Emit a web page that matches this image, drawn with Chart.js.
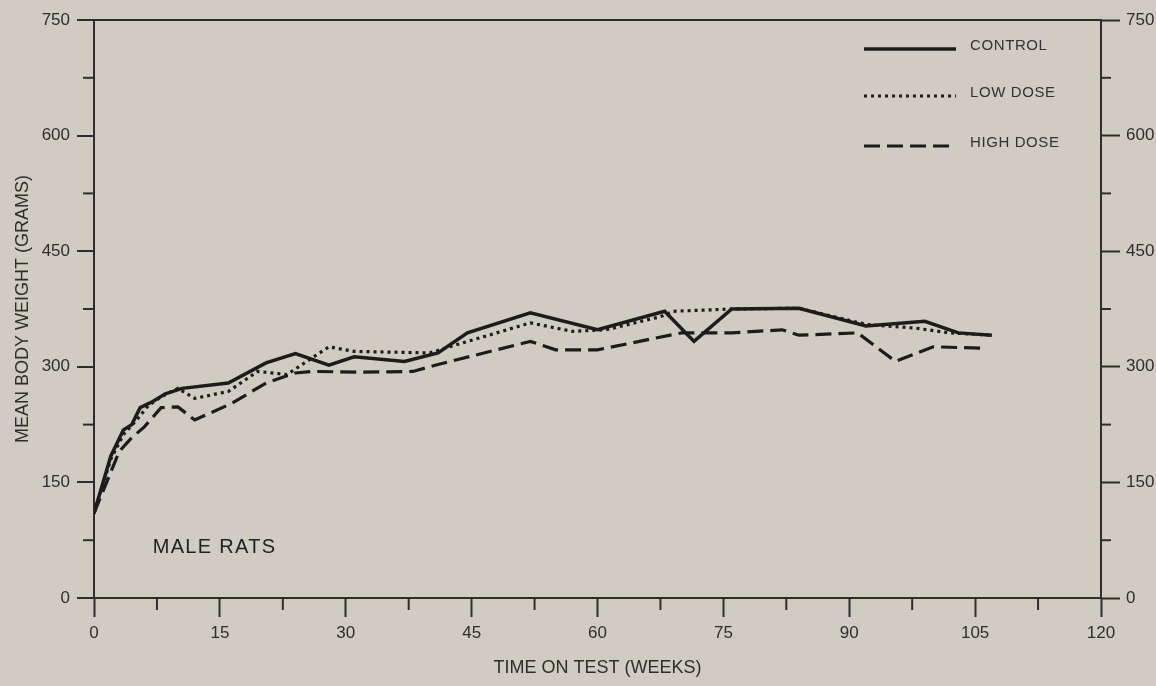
<!DOCTYPE html>
<html><head><meta charset="utf-8">
<script src="https://cdn.jsdelivr.net/npm/chart.js@4"></script>
<style>html,body{margin:0;padding:0;background:#d0ccc1;}#wrap{width:1156px;height:686px;}</style>
</head><body><div id="wrap"><canvas id="c" width="1156" height="686"></canvas></div>
<script>
// ---- data ----
const controlWeeks = [0, 2, 3.5, 4.5, 5.5, 7, 8.5, 10.5, 16, 20.5, 24, 28, 31, 37, 41, 44.5, 52, 60, 68, 71.5, 76, 84, 92, 99, 103, 107];
const controlWeights = [110, 184, 218, 225, 247, 255, 265, 272, 279, 305, 317, 302, 313, 307, 318, 344, 370, 348, 372, 333, 375, 376, 353, 359, 344, 341];

const lowWeeks = [0, 2, 3.5, 5, 6.5, 8, 10, 12, 16, 19.5, 23, 28, 31, 40, 43, 52, 57, 61, 67.5, 69, 76, 84, 92, 98, 102, 107];
const lowWeights = [110, 180, 212, 230, 250, 261, 272, 259, 268, 294, 290, 326, 320, 318, 328, 357, 346, 348, 365, 372, 375, 376, 355, 350, 344, 341];

const highWeeks = [0, 1.5, 3, 4.5, 6, 8, 10, 12, 16.5, 20.5, 24, 26, 32, 38, 41, 52, 55, 60, 70, 76, 82, 84, 91, 95.5, 100, 106];
const highWeights = [110, 150, 190, 208, 222, 247, 248, 231, 253, 279, 292, 294, 293, 294, 303, 333, 322, 322, 344, 344, 348, 341, 344, 307, 326, 324];

const seriesLabels = ['CONTROL', 'LOW DOSE', 'HIGH DOSE'];
const xMajorStep = 15, xMinorStep = 7.5, xMin = 0, xMax = 120;
const yMajorStep = 150, yMinorStep = 75, yMin = 0, yMax = 750;
const xTitle = 'TIME ON TEST (WEEKS)';
const yTitle = 'MEAN BODY WEIGHT (GRAMS)';
const panelLabel = 'MALE RATS';
const panelLabelAt = { x: 7, y: 66 };

// ---- styling ----
const INK = '#1c1c1c';
const AXIS = '#2e2e2e';
const FONT = "'Liberation Sans', Arial, sans-serif";

function pts(xs, ys) { return xs.map((x, i) => ({ x: x, y: ys[i] })); }

const datasets = [
  { label: seriesLabels[0], data: pts(controlWeeks, controlWeights), borderColor: INK, borderWidth: 3.5, borderDash: [] },
  { label: seriesLabels[1], data: pts(lowWeeks, lowWeights), borderColor: INK, borderWidth: 3.2, borderDash: [3, 4] },
  { label: seriesLabels[2], data: pts(highWeeks, highWeights), borderColor: INK, borderWidth: 3.2, borderDash: [16, 7] }
].map(d => Object.assign(d, { pointRadius: 0, tension: 0, fill: false, yAxisID: 'y', xAxisID: 'x' }));

const decor = {
  id: 'decor',
  afterDraw(chart) {
    const ctx = chart.ctx;
    const xs = chart.scales.x, yl = chart.scales.y, yr = chart.scales.y2;
    ctx.save();
    ctx.strokeStyle = AXIS;
    ctx.lineWidth = 2;
    // minor ticks
    for (let v = xMin + xMinorStep; v < xMax; v += xMajorStep) {
      const p = xs.getPixelForValue(v);
      ctx.beginPath(); ctx.moveTo(p, xs.top); ctx.lineTo(p, xs.top + 12); ctx.stroke();
    }
    for (let v = yMin + yMinorStep; v < yMax; v += yMajorStep) {
      const p = yl.getPixelForValue(v);
      ctx.beginPath(); ctx.moveTo(yl.right, p); ctx.lineTo(yl.right - 11, p); ctx.stroke();
      const q = yr.getPixelForValue(v);
      ctx.beginPath(); ctx.moveTo(yr.left, q); ctx.lineTo(yr.left + 10, q); ctx.stroke();
    }
    // legend
    const ca = chart.chartArea;
    const lx0 = ca.right - 237, lx1 = ca.right - 145, tx = ca.right - 131;
    const rows = [29, 76, 126];
    ctx.font = '15px ' + FONT;
    ctx.textBaseline = 'middle';
    ctx.textAlign = 'left';
    chart.data.datasets.forEach((ds, i) => {
      const y = ca.top + rows[i];
      ctx.save();
      ctx.strokeStyle = ds.borderColor;
      ctx.lineWidth = ds.borderWidth;
      ctx.setLineDash(ds.borderDash || []);
      ctx.beginPath(); ctx.moveTo(lx0, y); ctx.lineTo(lx1, y); ctx.stroke();
      ctx.restore();
      ctx.fillStyle = '#333';
      ctx.letterSpacing = '0.6px';
      ctx.fillText(ds.label, tx, y - 3);
    });
    // panel label
    ctx.font = '20px ' + FONT;
    ctx.letterSpacing = '1.3px';
    ctx.fillStyle = '#222';
    ctx.fillText(panelLabel, xs.getPixelForValue(panelLabelAt.x), yl.getPixelForValue(panelLabelAt.y));
    ctx.restore();
  }
};

const tickFont = { family: FONT, size: 17 };
const titleFont = { family: FONT, size: 18 };

new Chart(document.getElementById('c'), {
  type: 'line',
  data: { datasets: datasets },
  options: {
    responsive: false,
    animation: false,
    layout: { padding: { top: 20, left: 0, right: 0, bottom: 0 } },
    plugins: { legend: { display: false }, tooltip: { enabled: false } },
    scales: {
      x: {
        type: 'linear', position: 'bottom', min: xMin, max: xMax,
        ticks: { stepSize: xMajorStep, font: tickFont, color: '#2e2e2e', padding: 6, maxRotation: 0, autoSkip: false },
        grid: { drawOnChartArea: false, drawTicks: true, tickLength: 19, tickWidth: 2, tickColor: AXIS },
        border: { display: true, color: AXIS, width: 2 },
        title: { display: true, text: xTitle, font: titleFont, color: '#2e2e2e', padding: { top: 0, bottom: 7 } },
        afterFit(s) { s.height = 88; }
      },
      y: {
        type: 'linear', position: 'left', min: yMin, max: yMax,
        ticks: { stepSize: yMajorStep, font: tickFont, color: '#2e2e2e', padding: 7 },
        grid: {
          drawOnChartArea: true, drawTicks: true, tickLength: 17, tickWidth: 2, tickColor: AXIS, lineWidth: 2,
          color: c => (c.tick && c.tick.value === yMax) ? AXIS : 'rgba(0,0,0,0)'
        },
        border: { display: true, color: AXIS, width: 2 },
        title: { display: true, text: yTitle, font: titleFont, color: '#2e2e2e', padding: { top: 12, bottom: 0 } },
        afterFit(s) { s.width = 94; }
      },
      y2: {
        type: 'linear', position: 'right', min: yMin, max: yMax, display: true,
        ticks: { stepSize: yMajorStep, font: tickFont, color: '#2e2e2e', padding: 6 },
        grid: { drawOnChartArea: false, drawTicks: true, tickLength: 19, tickWidth: 2, tickColor: AXIS },
        border: { display: true, color: AXIS, width: 2 },
        afterFit(s) { s.width = 55; }
      }
    }
  },
  plugins: [decor]
});
</script>
</body></html>
